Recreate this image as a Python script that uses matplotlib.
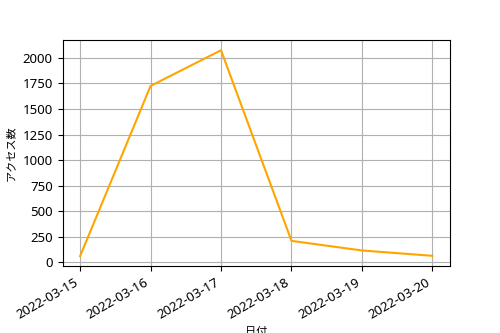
import matplotlib
matplotlib.use("Agg")
import matplotlib.pyplot as plt
import matplotlib.ticker as ticker
import pandas as pd

plt.rcParams['font.family'] = ['Noto Sans', 'Noto Sans CJK JP', 'DejaVu Sans']
plt.rcParams['font.size'] = 9.5

dates = pd.to_datetime(["2022-03-15", "2022-03-16", "2022-03-17",
                        "2022-03-18", "2022-03-19", "2022-03-20"])
access = [62, 1726, 2075, 211, 117, 65]

fig, ax = plt.subplots(figsize=(5, 3.33), dpi=100)
ax.plot(dates, access, color="orange")
ax.set_xlabel("日付", fontsize=8)
ax.set_ylabel("アクセス数", fontsize=8)
ax.yaxis.set_major_locator(ticker.MultipleLocator(250))
ax.grid(True)
fig.autofmt_xdate()

fig.savefig("out.png")
